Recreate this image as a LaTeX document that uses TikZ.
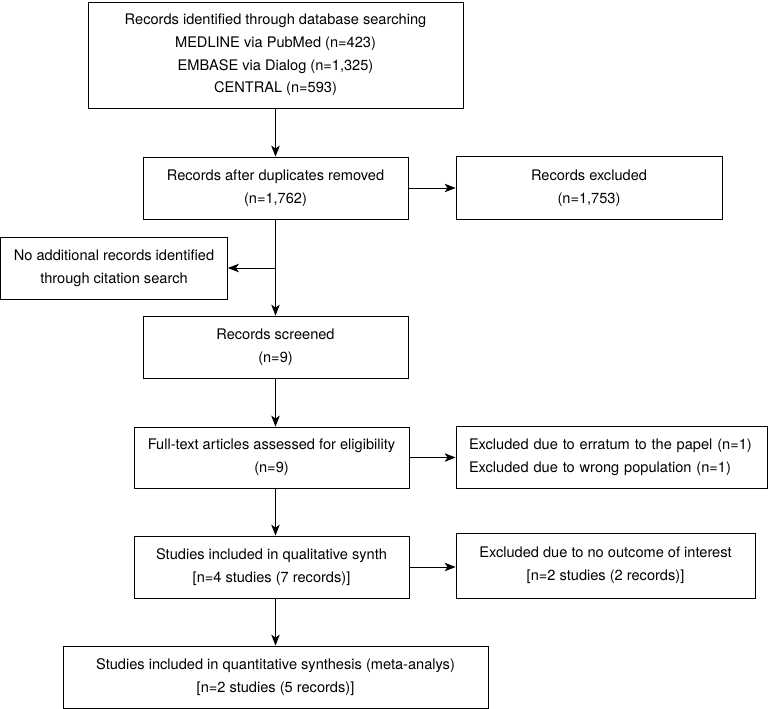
\documentclass[tikz,border=0pt]{standalone}
\usepackage{fontspec}
\setmainfont{TeX Gyre Heros}
\usetikzlibrary{arrows.meta}

\tikzset{
  box/.style={draw, line width=0.8pt, inner sep=0pt, align=center,
    font=\fontsize{14.6}{22.8}\selectfont},
  arr/.style={-{Stealth[length=11pt,width=8.5pt,inset=3pt]}, line width=0.8pt},
}

\begin{document}
\begin{tikzpicture}[x=1pt, y=-1pt]
    \useasboundingbox (0,0) rectangle (768,709);

    % 主干
    \node[box, minimum width=375pt, minimum height=106pt] (rec) at (275.5,55)
      {Records identified through database searching\\MEDLINE via PubMed (n=423)\\EMBASE via Dialog (n=1,325)\\CENTRAL (n=593)};
    \node[box, minimum width=265pt, minimum height=62pt] (dup) at (275.5,188)
      {Records after duplicates removed\\(n=1,762)};
    \node[box, minimum width=265pt, minimum height=62pt] (screen) at (275.5,347)
      {Records screened\\(n=9)};
    \node[box, minimum width=275pt, minimum height=61pt] (full) at (271.5,457.5)
      {Full-text articles assessed for eligibility\\(n=9)};
    \node[box, minimum width=275pt, minimum height=62pt] (qual) at (271.5,567)
      {Studies included in qualitative synth\\{[}n=4 studies (7 records){]}};
    \node[box, minimum width=425pt, minimum height=62pt] (quant) at (275.5,677)
      {Studies included in quantitative synthesis (meta-analys)\\{[}n=2 studies (5 records){]}};

    % 侧框
    \node[box, minimum width=266pt, minimum height=63pt] (excl) at (589,188)
      {Records excluded\\(n=1,753)};
    \node[box, minimum width=227pt, minimum height=62pt] (cite) at (114,268)
      {No additional records identified\\through citation search};
    \node[box, align=left, text width=285pt, inner xsep=13pt, minimum height=62pt] (erra) at (611.5,457.5)
      {Excluded due to erratum to the papel (n=1)\\Excluded due to wrong population (n=1)};
    \node[box, minimum width=299pt, minimum height=65pt] (noout) at (605.5,565.5)
      {Excluded due to no outcome of interest\\{[}n=2 studies (2 records){]}};

    % 箭头
    \draw[arr] (rec.south) -- (dup.north);
    \draw[arr] (dup.south) -- (screen.north);
    \draw[arr] (dup.south |- cite.east) -- (cite.east);
    \draw[arr] (screen.south) -- (screen.south |- full.north);
    \draw[arr] (full.south -| screen.south) -- (qual.north -| screen.south);
    \draw[arr] (qual.south -| quant.north) -- (quant.north);
    \draw[arr] (dup.east) -- (excl.west |- dup.east);
    \draw[arr] (full.east) -- (erra.west |- full.east);
    \draw[arr] (qual.east) -- (noout.west |- qual.east);
\end{tikzpicture}
\end{document}
